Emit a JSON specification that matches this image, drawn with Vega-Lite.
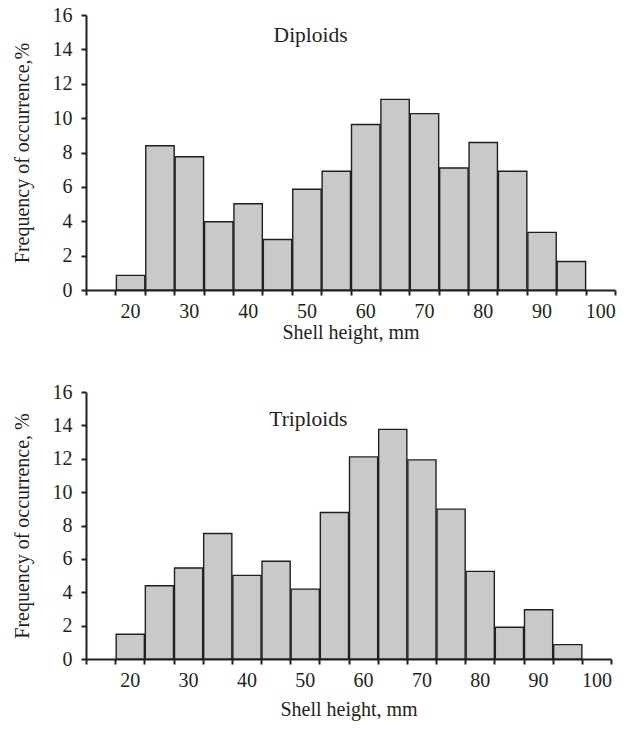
{
  "$schema": "https://vega.github.io/schema/vega-lite/v6.json",
  "background": "white",
  "padding": {"left": 12, "top": 5, "right": 6, "bottom": 5},
  "config": {
    "font": "Liberation Serif",
    "view": {"stroke": null},
    "axis": {
      "labelFont": "Liberation Serif", "titleFont": "Liberation Serif",
      "labelFontSize": 20, "titleFontSize": 20, "titleFontWeight": "normal",
      "labelColor": "#231f20", "titleColor": "#231f20",
      "domainColor": "#231f20", "tickColor": "#231f20",
      "domainWidth": 2, "tickWidth": 2, "tickSize": 5, "grid": false
    }
  },
  "spacing": 40,
  "vconcat": [
    {
      "width": 529, "height": 275,
      "title": {"text": "Diploids", "anchor": "start", "frame": "group", "orient": "top", "dx": 187.6, "dy": 25, "offset": -27.3, "baseline": "middle",
                "fontSize": 21.5, "font": "Liberation Serif", "fontWeight": "normal", "color": "#231f20"},
      "data": {"values": [
        {"height": 20, "freq": 0.85}, {"height": 25, "freq": 8.39}, {"height": 30, "freq": 7.75},
        {"height": 35, "freq": 3.97}, {"height": 40, "freq": 5.02}, {"height": 45, "freq": 2.94},
        {"height": 50, "freq": 5.86}, {"height": 55, "freq": 6.91}, {"height": 60, "freq": 9.63},
        {"height": 65, "freq": 11.09}, {"height": 70, "freq": 10.26}, {"height": 75, "freq": 7.1},
        {"height": 80, "freq": 8.58}, {"height": 85, "freq": 6.91}, {"height": 90, "freq": 3.35},
        {"height": 95, "freq": 1.66}
      ]},
      "mark": {"type": "bar", "fill": "#c8c9cb", "stroke": "#231f20", "strokeWidth": 1.4},
      "encoding": {
        "x": {"field": "height", "type": "quantitative",
              "bin": {"step": 5, "extent": [12.5, 102.5], "nice": false},
              "scale": {"domain": [12.5, 102.5], "nice": false, "zero": false},
              "axis": {"title": "Shell height, mm", "values": [12.5,17.5,22.5,27.5,32.5,37.5,42.5,47.5,52.5,57.5,62.5,67.5,72.5,77.5,82.5,87.5,92.5,97.5,102.5],
                       "labelExpr": "(datum.value - 17.5) % 10 == 0 ? format(datum.value + 2.5, 'd') : ''",
                       "labelOffset": 14.7, "labelOverlap": false, "labelFlush": false, "labelPadding": 6, "titlePadding": 1}},
        "y": {"field": "freq", "type": "quantitative", "aggregate": "sum",
              "scale": {"domain": [0, 16], "nice": false},
              "axis": {"title": "Frequency of occurrence,%", "values": [0,2,4,6,8,10,12,14,16], "labelOverlap": false, "labelPadding": 9, "titlePadding": 20}}
      }
    },
    {
      "width": 525, "height": 267,
      "title": {"text": "Triploids", "anchor": "start", "frame": "group", "orient": "top", "dx": 183.3, "dy": 32.3, "offset": -27.3, "baseline": "middle",
                "fontSize": 21.5, "font": "Liberation Serif", "fontWeight": "normal", "color": "#231f20"},
      "data": {"values": [
        {"height": 20, "freq": 1.48}, {"height": 25, "freq": 4.39}, {"height": 30, "freq": 5.45},
        {"height": 35, "freq": 7.52}, {"height": 40, "freq": 5.01}, {"height": 45, "freq": 5.86},
        {"height": 50, "freq": 4.19}, {"height": 55, "freq": 8.78}, {"height": 60, "freq": 12.11},
        {"height": 65, "freq": 13.76}, {"height": 70, "freq": 11.93}, {"height": 75, "freq": 8.98},
        {"height": 80, "freq": 5.25}, {"height": 85, "freq": 1.9}, {"height": 90, "freq": 2.95},
        {"height": 95, "freq": 0.86}
      ]},
      "mark": {"type": "bar", "fill": "#c8c9cb", "stroke": "#231f20", "strokeWidth": 1.4},
      "encoding": {
        "x": {"field": "height", "type": "quantitative",
              "bin": {"step": 5, "extent": [12.5, 102.5], "nice": false},
              "scale": {"domain": [12.5, 102.5], "nice": false, "zero": false},
              "axis": {"title": "Shell height, mm", "values": [12.5,17.5,22.5,27.5,32.5,37.5,42.5,47.5,52.5,57.5,62.5,67.5,72.5,77.5,82.5,87.5,92.5,97.5,102.5],
                       "labelExpr": "(datum.value - 17.5) % 10 == 0 ? format(datum.value + 2.5, 'd') : ''",
                       "labelOffset": 14.6, "labelOverlap": false, "labelFlush": false, "labelPadding": 6, "titlePadding": 9}},
        "y": {"field": "freq", "type": "quantitative", "aggregate": "sum",
              "scale": {"domain": [0, 16], "nice": false},
              "axis": {"title": "Frequency of occurrence, %", "values": [0,2,4,6,8,10,12,14,16], "labelOverlap": false, "labelPadding": 9, "titlePadding": 20}}
      }
    }
  ]
}
